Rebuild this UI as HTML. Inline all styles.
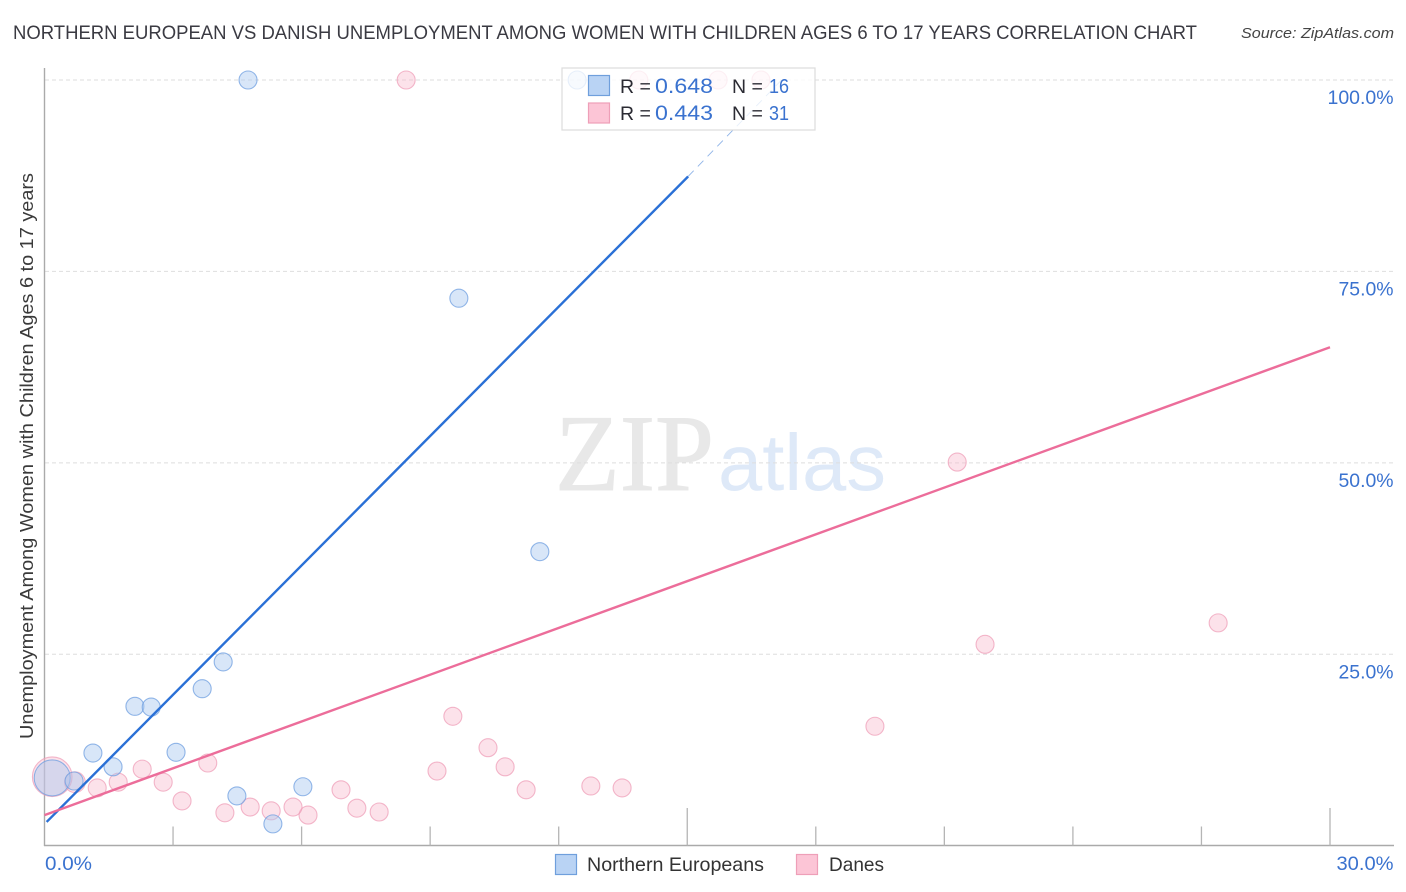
<!DOCTYPE html>
<html>
<head>
<meta charset="utf-8">
<style>
html,body{margin:0;padding:0;background:#fff;width:1406px;height:892px;overflow:hidden}
svg{display:block}
text{font-family:"Liberation Sans",sans-serif}
</style>
</head>
<body>
<svg id="chart" width="1406" height="892" viewBox="0 0 1406 892">
  <text x="13" y="39" font-size="19" fill="#3a3a42" textLength="1184" lengthAdjust="spacingAndGlyphs">NORTHERN EUROPEAN VS DANISH UNEMPLOYMENT AMONG WOMEN WITH CHILDREN AGES 6 TO 17 YEARS CORRELATION CHART</text>
  <text x="1241" y="38" font-size="15" font-style="italic" fill="#444" textLength="153" lengthAdjust="spacingAndGlyphs">Source: ZipAtlas.com</text>
  <text x="555" y="490" font-size="109" fill="#e8e8e8" stroke="#e8e8e8" stroke-width="1" style="font-family:'Liberation Serif',serif" textLength="159" lengthAdjust="spacingAndGlyphs">ZIP</text>
  <text x="718" y="490" font-size="80" fill="#deE9f8" textLength="168" lengthAdjust="spacingAndGlyphs">atlas</text>
  <g id="grid"></g>
  <g id="axes"></g>
  <g id="points"></g>
  <g id="lines"></g>
  <text transform="translate(33,739) rotate(-90)" font-size="18.5" fill="#3a3a3a" textLength="566" lengthAdjust="spacingAndGlyphs">Unemployment Among Women with Children Ages 6 to 17 years</text>
  <g id="yticks"></g>
  <g id="xticks"></g>
  <g>
    <rect x="562" y="68" width="253" height="62" fill="#fff" fill-opacity="0.78" stroke="#dcdcdc" stroke-width="1.2"/>
    <rect x="588.5" y="75.5" width="21" height="20" fill="#b9d3f4" stroke="#6f9fdc" stroke-width="1.2"/>
    <rect x="588.5" y="103" width="21" height="20" fill="#fcc5d6" stroke="#ee9fb8" stroke-width="1.2"/>
    <text x="620" y="93" font-size="19.5" fill="#2b2b33">R =</text>
    <text x="655" y="93" font-size="21" fill="#3a72cf" textLength="58" lengthAdjust="spacingAndGlyphs">0.648</text>
    <text x="732" y="93" font-size="19.5" fill="#2b2b33">N =</text>
    <text x="769" y="93" font-size="20" fill="#3a72cf" textLength="20" lengthAdjust="spacingAndGlyphs">16</text>
    <text x="620" y="120" font-size="19.5" fill="#2b2b33">R =</text>
    <text x="655" y="120" font-size="21" fill="#3a72cf" textLength="58" lengthAdjust="spacingAndGlyphs">0.443</text>
    <text x="732" y="120" font-size="19.5" fill="#2b2b33">N =</text>
    <text x="769" y="120" font-size="20" fill="#3a72cf" textLength="20" lengthAdjust="spacingAndGlyphs">31</text>
  </g>
  <g>
    <rect x="555.5" y="854.5" width="21" height="20" fill="#b9d3f4" stroke="#6f9fdc" stroke-width="1.2"/>
    <text x="587" y="871" font-size="19.5" fill="#333" textLength="177" lengthAdjust="spacingAndGlyphs">Northern Europeans</text>
    <rect x="796.5" y="854.5" width="21" height="20" fill="#fcc5d6" stroke="#ee9fb8" stroke-width="1.2"/>
    <text x="829" y="871" font-size="19.5" fill="#333" textLength="55" lengthAdjust="spacingAndGlyphs">Danes</text>
  </g>
</svg>
<script>
const yTickValues = [100, 75, 50, 25];
const yTickLabels = ['100.0%', '75.0%', '50.0%', '25.0%'];
const xTickValues = [3, 6, 9, 12, 15, 18, 21, 24, 27, 30];
const xMajorTicks = [15, 30];
const xEndValues = [0, 30];
const xEndLabels = ['0.0%', '30.0%'];

const blueX = [4.75, 12.43, 9.67, 11.56, 4.17, 3.68, 2.11, 2.49, 1.13, 3.07, 1.60, 6.03, 4.49, 5.33, 0.18, 0.69];
const blueY = [100, 100, 71.5, 38.4, 24.0, 20.5, 18.2, 18.1, 12.1, 12.2, 10.3, 7.7, 6.5, 2.85, 8.85, 8.45];
const blueSize = [1, 1, 1, 1, 1, 1, 1, 1, 1, 1, 1, 1, 1, 1, 2, 1];

const pinkX = [8.44, 13.87, 15.72, 16.72, 21.30, 27.39, 21.95, 19.38, 9.53, 10.35, 10.75, 9.16, 11.24, 12.75, 13.48, 6.92, 7.29, 7.81, 6.15, 5.80, 5.29, 4.80, 4.21, 3.21, 3.81, 2.77, 2.28, 1.72, 1.23, 0.71, 0.18];
const pinkY = [100, 100, 100, 100, 50.1, 29.1, 26.3, 15.6, 16.9, 12.8, 10.3, 9.75, 7.3, 7.8, 7.55, 7.3, 4.9, 4.4, 4.0, 5.05, 4.55, 5.05, 4.3, 5.85, 10.8, 8.3, 10.0, 8.3, 7.55, 8.3, 9.0];
const pinkSize = [1, 1, 1, 1, 1, 1, 1, 1, 1, 1, 1, 1, 1, 1, 1, 1, 1, 1, 1, 1, 1, 1, 1, 1, 1, 1, 1, 1, 1, 1.15, 2.2];

const blueTrendX = [0.05, 15.02];
const blueTrendY = [3.1, 87.4];
const blueDashX = [15.02, 17.2];
const blueDashY = [87.4, 100];
const pinkTrendX = [0, 30];
const pinkTrendY = [4.0, 65.1];

const NS = 'http://www.w3.org/2000/svg';
function xScale(v) { return 44.5 + v * 42.85; }
function yScale(v) { return 845.7 - v * 7.657; }
function make(tag, parentId, attrs, text) {
  const el = document.createElementNS(NS, tag);
  for (const k in attrs) el.setAttribute(k, attrs[k]);
  if (text !== undefined) el.textContent = text;
  document.getElementById(parentId).appendChild(el);
  return el;
}

yTickValues.forEach(function (v, i) {
  const line = make('line', 'grid', {x1: 45, x2: 1394, y1: yScale(v), y2: yScale(v), stroke: '#dedede', 'stroke-width': 1, 'stroke-dasharray': '4 3'});
  
  
  const label = make('text', 'yticks', {x: 1393.5, y: yScale(v) + 24, 'text-anchor': 'end', 'font-size': 19.5, fill: '#3a72cf', textLength: yTickLabels[i].length * 11, lengthAdjust: 'spacingAndGlyphs'}, yTickLabels[i]);
  
  
});

const yAxis = make('line', 'axes', {x1: 44.5, x2: 44.5, y1: 68, y2: 846, stroke: '#aaa', 'stroke-width': 1.4});


const xAxis = make('line', 'axes', {x1: 44, x2: 1394, y1: 845.5, y2: 845.5, stroke: '#aaa', 'stroke-width': 1.4});



xTickValues.forEach(function (v) {
  const major = xMajorTicks.indexOf(v) >= 0;
  const tick = make('line', 'axes', {x1: xScale(v), x2: xScale(v), y1: major ? 808 : 826.5, y2: 845.5, stroke: '#b5b5b5', 'stroke-width': 1.3});
  
  
});

xEndValues.forEach(function (v, i) {
  const label = make('text', 'xticks', {x: i === 0 ? xScale(v) + 0.5 : 1393.5, y: 870, 'text-anchor': i === 0 ? 'start' : 'end', 'font-size': 19.5, fill: '#3a72cf', textLength: i === 0 ? 47 : 57, lengthAdjust: 'spacingAndGlyphs'}, xEndLabels[i]);
  
  
});

pinkX.forEach(function (v, i) {
  const dot = make('circle', 'points', {cx: xScale(v), cy: yScale(pinkY[i]), r: 9 * pinkSize[i], fill: '#f8b6cb', 'fill-opacity': 0.4, stroke: '#ee9ab5', 'stroke-opacity': 0.7, 'stroke-width': 1.1});
  
  
});
blueX.forEach(function (v, i) {
  const dot = make('circle', 'points', {cx: xScale(v), cy: yScale(blueY[i]), r: 9 * blueSize[i], fill: '#a9c8f0', 'fill-opacity': 0.45, stroke: '#6f9fe0', 'stroke-opacity': 0.75, 'stroke-width': 1.1});
  
  
});

const blueDash = make('line', 'lines', {x1: xScale(blueDashX[0]), y1: yScale(blueDashY[0]), x2: xScale(blueDashX[1]), y2: yScale(blueDashY[1]), stroke: '#8fb4e8', 'stroke-width': 0.9, 'stroke-dasharray': '8 6'});


const blueTrend = make('line', 'lines', {x1: xScale(blueTrendX[0]), y1: yScale(blueTrendY[0]), x2: xScale(blueTrendX[1]), y2: yScale(blueTrendY[1]), stroke: '#2a70d6', 'stroke-width': 2.4});


const pinkTrend = make('line', 'lines', {x1: xScale(pinkTrendX[0]), y1: yScale(pinkTrendY[0]), x2: xScale(pinkTrendX[1]), y2: yScale(pinkTrendY[1]), stroke: '#ec6d9a', 'stroke-width': 2.4});


</script>
</body>
</html>
